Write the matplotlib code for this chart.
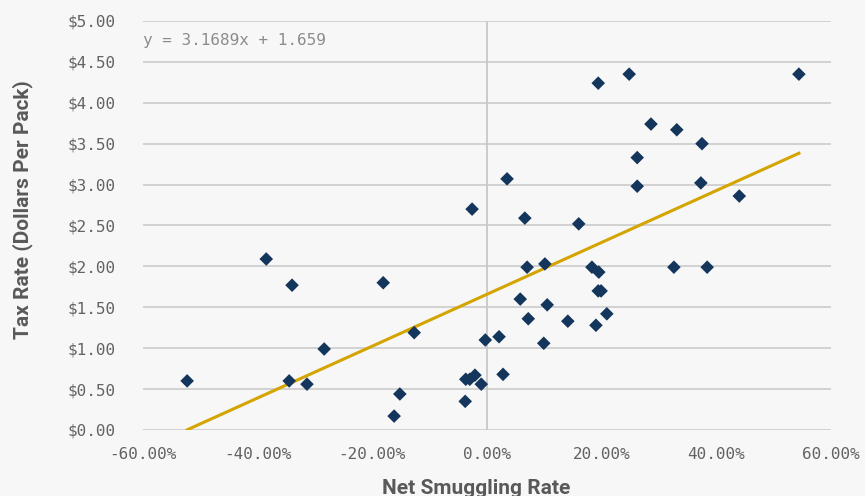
import matplotlib.pyplot as plt
import numpy as np
from matplotlib.ticker import FuncFormatter

# net smuggling rate (fraction) and tax per pack (dollars)
smuggling = [-0.523, -0.385, -0.340, -0.345, -0.314, -0.284, -0.181, -0.162, -0.152, -0.127,
             -0.038, -0.037, -0.030, -0.021, -0.010, -0.026, -0.003, 0.021, 0.028, 0.035,
             0.058, 0.066, 0.070, 0.072, 0.099, 0.101, 0.105, 0.141, 0.160, 0.183,
             0.190, 0.194, 0.195, 0.194, 0.199, 0.209, 0.248, 0.262, 0.262, 0.286,
             0.331, 0.326, 0.375, 0.373, 0.384, 0.440, 0.544]
tax_rate = [0.60, 2.09, 1.77, 0.60, 0.56, 0.99, 1.80, 0.17, 0.44, 1.19,
            0.35, 0.62, 0.62, 0.67, 0.56, 2.70, 1.10, 1.14, 0.68, 3.07,
            1.60, 2.59, 1.99, 1.36, 1.06, 2.03, 1.53, 1.33, 2.52, 1.99,
            1.28, 4.24, 1.93, 1.70, 1.70, 1.42, 4.35, 3.33, 2.98, 3.74,
            3.67, 1.99, 3.50, 3.02, 1.99, 2.86, 4.35]

slope = 3.1689
intercept = 1.659

x_ticks = [-0.6, -0.4, -0.2, 0.0, 0.2, 0.4, 0.6]
y_ticks = [0, 0.5, 1, 1.5, 2, 2.5, 3, 3.5, 4, 4.5, 5]

bg = '#f7f7f7'
grey_text = '#595959'
mono = 'DejaVu Sans Mono'

fig = plt.figure(figsize=(8.65, 4.96), dpi=100, facecolor=bg)
ax = fig.add_axes([0.1653, 0.1331, 0.7954, 0.8246], facecolor=bg)

x = np.array(smuggling)
y = np.array(tax_rate)

# trend line over the data range
xs = np.array([x.min(), x.max()])
ax.plot(xs, slope * xs + intercept, color='#d4a400', lw=2.2, zorder=2)
ax.scatter(x, y, marker='D', s=48, color='#14365c', edgecolors='none', zorder=3)

ax.set_xlim(-0.6, 0.6)
ax.set_ylim(0, 5)
ax.set_xticks(x_ticks)
ax.set_yticks(y_ticks)
ax.xaxis.set_major_formatter(FuncFormatter(lambda v, p: f'{0.0 if abs(v) < 1e-9 else v * 100:.2f}%'))
ax.yaxis.set_major_formatter(FuncFormatter(lambda v, p: f'${v:.2f}'))

ax.grid(axis='y', color='#c8c8c8', lw=1.1, zorder=0)
ax.axvline(0, color='#bfbfbf', lw=1.1, zorder=1)
for s in ax.spines.values():
    s.set_visible(False)
ax.tick_params(length=0, labelsize=11.5, labelcolor='#636363')
ax.tick_params(axis='y', pad=20)
ax.tick_params(axis='x', pad=12)
for lbl in ax.get_xticklabels() + ax.get_yticklabels():
    lbl.set_fontfamily(mono)

ax.text(0.0, 0.952, 'y = 3.1689x + 1.659', transform=ax.transAxes, fontsize=11.5,
        family=mono, color='#8c8c8c', va='center', ha='left')

fig.text(0.5505, 0.016, 'Net Smuggling Rate', ha='center', va='center', fontsize=15,
         fontweight='bold', family='Roboto', color=grey_text)
fig.text(0.026, 0.577, 'Tax Rate (Dollars Per Pack)', ha='center', va='center', rotation=90,
         fontsize=15, fontweight='bold', family='Roboto', color=grey_text)

fig.savefig('out.png', dpi=100, facecolor=bg)
